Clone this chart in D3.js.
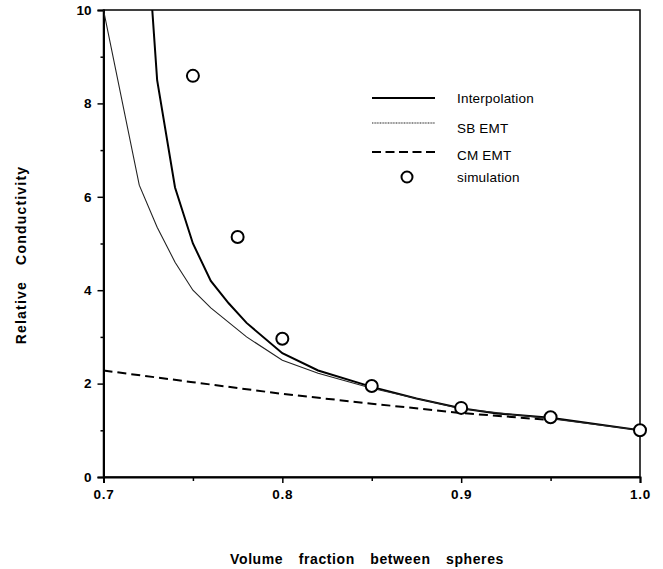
<!DOCTYPE html>
<html><head><meta charset="utf-8">
<script src="https://cdn.jsdelivr.net/npm/d3@7"></script>
<style>body{margin:0;background:#fff}svg{display:block}</style>
</head><body>
<script>
const interpX = [0.72, 0.73, 0.74, 0.75, 0.76, 0.77, 0.78, 0.80, 0.82, 0.85, 0.875, 0.90, 0.92, 0.95, 1.0];
const interpY = [14, 8.5, 6.2, 5.0, 4.2, 3.72, 3.3, 2.65, 2.28, 1.93, 1.68, 1.47, 1.36, 1.27, 1.0];
const sbX = [0.70, 0.72, 0.73, 0.74, 0.75, 0.76, 0.78, 0.80, 0.82, 0.85, 0.90, 0.95, 1.0];
const sbY = [10, 6.25, 5.35, 4.6, 4.0, 3.62, 3.0, 2.5, 2.22, 1.9, 1.46, 1.25, 1.0];
const cmX = [0.70, 0.75, 0.80, 0.85, 0.90, 0.95];
const cmY = [2.28, 2.03, 1.78, 1.57, 1.37, 1.22];
const simX = [0.75, 0.775, 0.80, 0.85, 0.90, 0.95, 1.0];
const simY = [8.59, 5.14, 2.96, 1.95, 1.48, 1.28, 1.0];
const xTicks = [0.7, 0.8, 0.9, 1.0];
const xMinor = [0.75, 0.85, 0.95];
const yTicks = [0, 2, 4, 6, 8, 10];
const yMinor = [1, 3, 5, 7, 9];
const legendLabels = ["Interpolation", "SB EMT", "CM EMT", "simulation"];

const W = 663, H = 569;
const svg = d3.select("body").append("svg").attr("width", W).attr("height", H);
const x = d3.scaleLinear().domain([0.7, 1.0]).range([103.5, 640]);
const y = d3.scaleLinear().domain([0, 10]).range([477, 10]);
const font = "Arial, 'Liberation Sans', Helvetica, sans-serif";

svg.append("defs").append("clipPath").attr("id", "clip").append("rect")
  .attr("x", x(0.7)).attr("y", y(10)).attr("width", x(1) - x(0.7)).attr("height", y(0) - y(10));

// frame
svg.append("rect").attr("x", x(0.7)).attr("y", y(10)).attr("width", x(1) - x(0.7)).attr("height", y(0) - y(10))
  .attr("fill", "none").attr("stroke", "#000").attr("stroke-width", 1.5);

// axes
const xAxis = d3.axisBottom(x).tickValues(xTicks).tickFormat(d3.format(".1f")).tickSize(6).tickPadding(6);
const gx = svg.append("g").attr("transform", `translate(0,${y(0)})`).call(xAxis);
gx.select(".domain").attr("stroke-width", 2);
gx.selectAll(".tick line").attr("stroke-width", 1.5);
gx.selectAll("text").attr("font-family", font).attr("font-weight", "bold").attr("font-size", 13.5)
  .attr("letter-spacing", 0.8).attr("fill", "#000");
const gxm = svg.append("g").attr("transform", `translate(0,${y(0)})`).call(d3.axisBottom(x).tickValues(xMinor).tickFormat("").tickSize(4));
gxm.select(".domain").remove();
gxm.selectAll(".tick line").attr("stroke-width", 1.5);

const yAxis = d3.axisLeft(y).tickValues(yTicks).tickFormat(d3.format("d")).tickSize(6).tickPadding(6);
const gy = svg.append("g").attr("transform", `translate(${x(0.7)},0)`).call(yAxis);
gy.select(".domain").attr("stroke-width", 2);
gy.selectAll(".tick line").attr("stroke-width", 1.5);
gy.selectAll("text").attr("font-family", font).attr("font-weight", "bold").attr("font-size", 13.5).attr("fill", "#000");
const gym = svg.append("g").attr("transform", `translate(${x(0.7)},0)`).call(d3.axisLeft(y).tickValues(yMinor).tickFormat("").tickSize(3));
gym.select(".domain").remove();
gym.selectAll(".tick line").attr("stroke-width", 1.5);

// lines
const plot = svg.append("g").attr("clip-path", "url(#clip)");
const line = d3.line().x(d => x(d[0])).y(d => y(d[1]));
plot.append("path").datum(interpX.map((v, i) => [v, interpY[i]])).attr("d", line)
  .attr("fill", "none").attr("stroke", "#000").attr("stroke-width", 2);
plot.append("path").datum(sbX.map((v, i) => [v, sbY[i]])).attr("d", line)
  .attr("fill", "none").attr("stroke", "#222").attr("stroke-width", 1.1);
plot.append("path").datum(cmX.map((v, i) => [v, cmY[i]])).attr("d", line)
  .attr("fill", "none").attr("stroke", "#000").attr("stroke-width", 2).attr("stroke-dasharray", "9,5");

svg.append("g").selectAll("circle").data(simX.map((v, i) => [v, simY[i]])).join("circle")
  .attr("cx", d => x(d[0])).attr("cy", d => y(d[1])).attr("r", 6)
  .attr("fill", "#fff").attr("stroke", "#000").attr("stroke-width", 2);

// legend
const leg = svg.append("g").attr("font-family", font).attr("font-size", 13.5);
const ly = [98, 123, 152, 177];
const ty = [103, 133, 160, 182];
leg.append("line").attr("x1", 372).attr("x2", 435).attr("y1", ly[0]).attr("y2", ly[0]).attr("stroke", "#000").attr("stroke-width", 2);
leg.append("line").attr("x1", 372).attr("x2", 435).attr("y1", ly[1]).attr("y2", ly[1]).attr("stroke", "#222").attr("stroke-width", 1.2).attr("stroke-dasharray", "1,0.6");
leg.append("line").attr("x1", 372).attr("x2", 435).attr("y1", ly[2]).attr("y2", ly[2]).attr("stroke", "#000").attr("stroke-width", 2).attr("stroke-dasharray", "9,4.5");
leg.append("circle").attr("cx", 407).attr("cy", ly[3]).attr("r", 5.5).attr("fill", "#fff").attr("stroke", "#000").attr("stroke-width", 2);
leg.selectAll("text").data(legendLabels).join("text")
  .attr("x", 457).attr("y", (d, i) => ty[i]).attr("letter-spacing", 0.2).text(d => d);

// axis titles
svg.append("text").attr("x", 367).attr("y", 564).attr("text-anchor", "middle")
  .attr("font-family", font).attr("font-weight", "bold").attr("font-size", 14).attr("word-spacing", 11).attr("letter-spacing", 0.6)
  .text("Volume fraction between spheres");
svg.append("text").attr("transform", "translate(26,255) rotate(-90)").attr("text-anchor", "middle")
  .attr("font-family", font).attr("font-weight", "bold").attr("font-size", 14).attr("word-spacing", 11).attr("letter-spacing", 1.2)
  .text("Relative Conductivity");
</script>
</body></html>
